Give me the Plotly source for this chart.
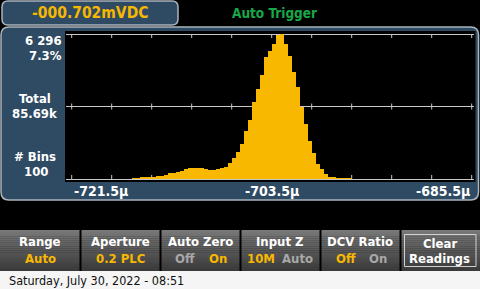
import plotly.graph_objects as go

# ---------------- data ----------------
reading_text = "-000.702mVDC"
trigger_text = "Auto Trigger"
x_min = -721.5          # µV, left edge of histogram
x_max = -685.5          # µV, right edge of histogram
n_bins = 100
peak_count = 6296
peak_pct = "7.3%"
total_text = "85.69k"

counts = [
    0, 0, 0, 0, 0, 0, 0, 0, 0, 0,
    0, 0, 0, 0, 0, 40, 42, 44, 44, 46,
    87, 130, 130, 173, 260, 260, 303, 361, 433, 477,
    477, 477, 477, 433, 390, 390, 433, 477, 534, 693,
    910, 1170, 1516, 2065, 2556, 3336, 3899, 4505, 5285, 5545,
    5863, 6253, 6296, 5863, 5329, 4635, 3986, 3105, 2383, 1632,
    1126, 650, 419, 217, 87, 87, 43, 43, 43, 43,
    0, 0, 0, 0, 0, 0, 0, 0, 0, 0,
    0, 0, 0, 0, 0, 0, 0, 0, 0, 0,
    0, 0, 0, 0, 0, 0, 0, 0, 0, 0,
]

division_ticks = [-721.5, -717.9, -714.3, -710.7, -707.1, -703.5,
                  -699.9, -696.3, -692.7, -689.1, -685.5]
label_ticks = [-721.5, -703.5, -685.5]
label_texts = ["-721.5µ", "-703.5µ", "-685.5µ"]

softkey_titles = ["Range", "Aperture", "Auto Zero", "Input Z", "DCV Ratio"]
date_text = "Saturday, July 30, 2022 - 08:51"

# ---------------- styling / geometry ----------------
W, H = 480, 289
PL, PR, PT, PB = 66, 474, 31, 181          # plot area in pixels
YEL = "#f8b800"
PANEL = "#2f4b63"
BORDER = "#aab4bd"
GRID = "#c8c8c8"
FONT = "DejaVu Sans Condensed, DejaVu Sans, sans-serif"

bin_w = (x_max - x_min) / n_bins
centers = [x_min + (i + 0.5) * bin_w for i in range(n_bins)]

px_per_unit = 400.0 / (x_max - x_min)
x_lo = x_min - (71.7 - PL) / px_per_unit
x_hi = x_max + (PR - 471.7) / px_per_unit
cnt_per_px = peak_count / (179.0 - 34.0)
y_lo = -(PB - 179.0) * cnt_per_px
y_hi = peak_count + (34.0 - PT) * cnt_per_px


def px(x):
    return (x - PL) / (PR - PL)


def py(y):
    return (PB - y) / (PB - PT)


def rrect(x0, y0, x1, y1, r):
    rx = r / (PR - PL)
    ry = r / (PB - PT)
    X0, X1, Y0, Y1 = px(x0), px(x1), py(y0), py(y1)   # Y0 top, Y1 bottom
    return (f"M {X0+rx},{Y0} L {X1-rx},{Y0} Q {X1},{Y0} {X1},{Y0-ry} "
            f"L {X1},{Y1+ry} Q {X1},{Y1} {X1-rx},{Y1} "
            f"L {X0+rx},{Y1} Q {X0},{Y1} {X0},{Y1+ry} "
            f"L {X0},{Y0-ry} Q {X0},{Y0} {X0+rx},{Y0} Z")


shapes = []
# header reading box
shapes.append(dict(type="path", xref="paper", yref="paper", layer="below",
                   path=rrect(2, 1, 178, 25, 6), fillcolor=PANEL,
                   line=dict(color=BORDER, width=1.5)))
# main panel
shapes.append(dict(type="path", xref="paper", yref="paper", layer="below",
                   path=rrect(1, 27, 478.5, 200, 8), fillcolor=PANEL,
                   line=dict(color=BORDER, width=1.5)))
# black plot background
shapes.append(dict(type="rect", xref="paper", yref="paper", layer="below",
                   x0=px(65), x1=px(475.5), y0=py(31), y1=py(182),
                   fillcolor="black", line=dict(width=0)))
# softkey gradient strips
n_strips = 20
top_c, bot_c = (0x78, 0x78, 0x78), (0x3a, 0x3a, 0x3a)
for k in range(n_strips):
    y0 = 230 + k * (41 / n_strips)
    y1 = 230 + (k + 1) * (41 / n_strips) + 0.3
    t = k / (n_strips - 1)
    c = tuple(int(top_c[j] + (bot_c[j] - top_c[j]) * t) for j in range(3))
    shapes.append(dict(type="rect", xref="paper", yref="paper", layer="below",
                       x0=px(0), x1=px(480), y0=py(y0), y1=py(y1),
                       fillcolor="rgb(%d,%d,%d)" % c, line=dict(width=0)))
for sx in [80, 160, 240, 320, 400]:
    shapes.append(dict(type="rect", xref="paper", yref="paper", layer="below",
                       x0=px(sx - 0.5), x1=px(sx + 1.5), y0=py(230), y1=py(271),
                       fillcolor="black", line=dict(width=0)))
# Clear Readings inner frame
shapes.append(dict(type="rect", xref="paper", yref="paper", layer="below",
                   x0=px(404.5), x1=px(476), y0=py(234.5), y1=py(266.5),
                   fillcolor="rgba(0,0,0,0)", line=dict(color="#d0d0d0", width=1)))
# status bar
shapes.append(dict(type="rect", xref="paper", yref="paper", layer="below",
                   x0=px(0), x1=px(480), y0=py(271), y1=py(289),
                   fillcolor="#f5f5f5", line=dict(width=0)))
# division tick marks on the three grid lines
for t in division_ticks:
    for (ya, yb) in [(34, 38), (103.5, 109.5), (175, 179)]:
        shapes.append(dict(type="line", xref="x", yref="paper", layer="below",
                           x0=t, x1=t, y0=py(ya), y1=py(yb),
                           line=dict(color=GRID, width=1)))

ann = []


def text(x, y, s, size, color="white", xanchor="center", bold=True, xref="paper"):
    ann.append(dict(x=(px(x) if xref == "paper" else x), y=py(y), xref=xref, yref="paper",
                    text=("<b>%s</b>" % s) if bold else s, showarrow=False,
                    xanchor=xanchor, yanchor="middle",
                    font=dict(family=FONT, size=size, color=color)))


text(90, 12.5, reading_text, 15.5, YEL)
text(274.5, 12.5, trigger_text, 13.5, "#18a848")
text(63.5, 40, "{:,}".format(peak_count).replace(",", " "), 13, xanchor="right")
text(64, 55, peak_pct, 13, xanchor="right")
text(34.5, 98, "Total", 13)
text(34.5, 113, total_text, 13)
text(34.5, 156, "# Bins", 13)
text(36, 171, str(n_bins), 13)
for v, s, a in zip(label_ticks, label_texts, ["left", "center", "right"]):
    text(v, 190.5, s, 14, xanchor=a, xref="x")

# softkeys
key_x = [40, 120, 200, 280, 360]
for kx, title in zip(key_x, softkey_titles):
    text(kx, 241, title, 13)
text(40, 258, "Auto", 13, YEL)
text(120, 258, "0.2 PLC", 13, YEL)
text(184.5, 258, "Off", 13, "#a8a8a8")
text(218, 258, "On", 13, YEL)
text(261, 258, "10M", 13, YEL)
text(297.5, 258, "Auto", 13, "#a8a8a8")
text(345.5, 258, "Off", 13, YEL)
text(378, 258, "On", 13, "#a8a8a8")
text(440, 243, "Clear", 13)
text(439, 258, "Readings", 13)
text(7, 280, date_text, 12.5, "#111111", xanchor="left", bold=False)

fig = go.Figure(go.Bar(x=centers, y=counts, width=bin_w,
                       marker=dict(color=YEL, line=dict(width=0)),
                       hoverinfo="skip"))
fig.update_layout(
    width=W, height=H, autosize=False,
    margin=dict(l=PL, r=W - PR, t=PT, b=H - PB, pad=0),
    paper_bgcolor="black", plot_bgcolor="black",
    bargap=0, showlegend=False,
    shapes=shapes, annotations=ann,
    xaxis=dict(range=[x_lo, x_hi], showgrid=False, zeroline=False,
               showticklabels=False, ticks="", showline=False, fixedrange=True),
    yaxis=dict(range=[y_lo, y_hi], tickvals=[0, peak_count / 2, peak_count],
               showgrid=True, gridcolor=GRID, gridwidth=1, zeroline=False,
               showticklabels=False, ticks="", showline=False, fixedrange=True),
)
fig.write_html("out.html", config={"displayModeBar": False})
